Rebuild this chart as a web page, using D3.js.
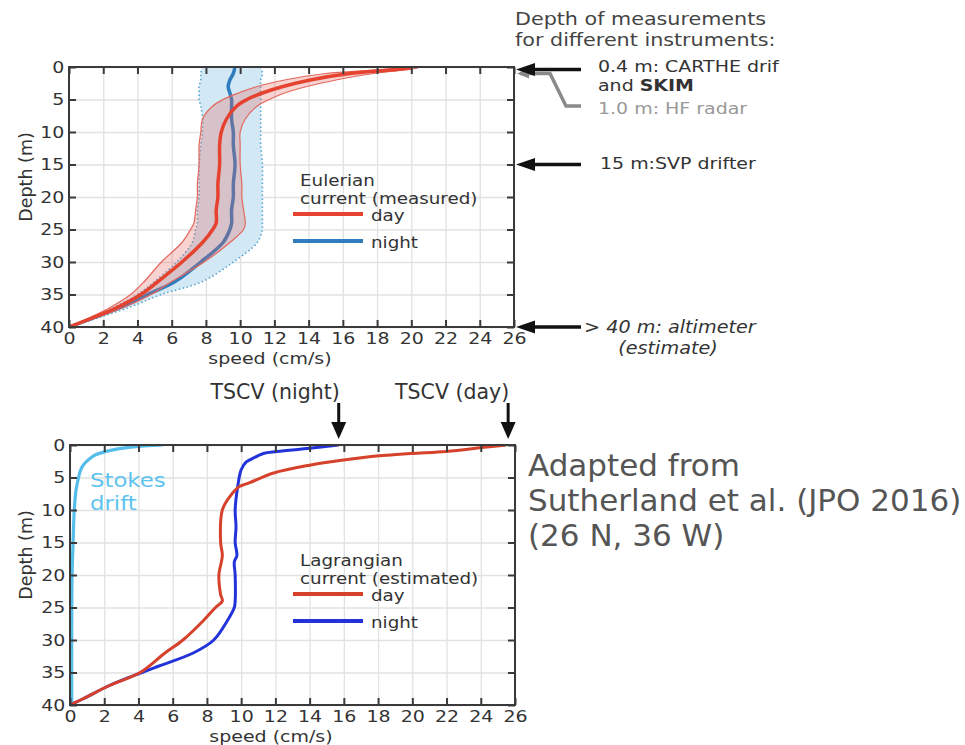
<!DOCTYPE html>
<html>
<head>
<meta charset="utf-8">
<script src="https://cdn.jsdelivr.net/npm/d3@7"></script>
<style>
  body { margin: 0; background: #fff; }
  svg { font-family: "DejaVu Sans", sans-serif; }
</style>
</head>
<body>
<svg id="chart" width="965" height="745"></svg>
<script>
// ---- data (speed in cm/s, depth in m) ----
const speedTicks = [0, 2, 4, 6, 8, 10, 12, 14, 16, 18, 20, 22, 24, 26];
const depthTicks = [0, 5, 10, 15, 20, 25, 30, 35, 40];

// Eulerian current, day (mean and spread)
const eulDayDepth = [0.15, 0.5, 1, 2, 3, 4, 5, 6, 8, 10, 12, 15, 18, 20, 22, 24, 25, 27, 30, 33, 35, 37, 40];
const eulDayMean  = [20, 18.6, 16.4, 14.1, 12.5, 11.3, 10.4, 9.8, 9.2, 8.9, 8.8, 8.8, 8.7, 8.7, 8.6, 8.6, 8.4, 7.8, 6.6, 5.2, 4.2, 2.8, 0];
const eulDayHigh  = [20.4, 19.5, 17.8, 15.6, 13.9, 12.6, 11.7, 11.0, 10.3, 10.0, 10.0, 10.0, 10.1, 10.1, 10.2, 10.3, 10.2, 9.4, 7.9, 6.0, 4.8, 3.2, 0];
const eulDayLow   = [19.6, 17.6, 15.0, 12.6, 11.0, 9.9, 9.0, 8.4, 7.8, 7.7, 7.6, 7.6, 7.5, 7.5, 7.4, 7.3, 7.1, 6.6, 5.4, 4.4, 3.6, 2.4, 0];

// Eulerian current, night
const eulNightDepth = [0, 1, 2, 3, 4, 5, 6, 8, 10, 12, 15, 18, 20, 22, 24, 25, 27, 30, 33, 35, 37, 40];
const eulNightMean  = [9.7, 9.6, 9.4, 9.3, 9.4, 9.5, 9.5, 9.5, 9.6, 9.6, 9.7, 9.6, 9.6, 9.5, 9.5, 9.4, 9.0, 7.7, 6.2, 4.6, 3.0, 0];
const eulNightHigh  = [11.2, 11.3, 11.2, 11.2, 11.2, 11.2, 11.2, 11.2, 11.2, 11.2, 11.3, 11.3, 11.3, 11.3, 11.3, 11.3, 11.0, 9.6, 7.8, 5.4, 3.5, 0];
const eulNightLow   = [7.8, 7.7, 7.7, 7.6, 7.6, 7.6, 7.7, 7.8, 7.8, 7.7, 7.6, 7.6, 7.6, 7.5, 7.5, 7.4, 7.2, 6.3, 5.0, 4.0, 2.6, 0];

// Lagrangian current (estimated)
const lagDayDepth = [0, 0.36, 1, 1.3, 1.7, 2.3, 3.1, 4.3, 5.8, 6.4, 7.9, 10, 15, 17, 20, 23, 24, 25, 27, 30, 32, 35, 37, 39, 40];
const lagDaySpeed = [25.5, 24.2, 22.0, 19.9, 17.9, 16.0, 14.0, 11.9, 10.5, 9.9, 9.35, 8.9, 8.8, 8.9, 8.7, 8.8, 8.9, 8.5, 7.8, 6.6, 5.55, 4.1, 2.3, 0.8, 0];
const lagNightDepth = [0, 0.5, 1, 1.3, 2.3, 2.6, 3.8, 6.4, 10, 12.6, 15, 17, 18, 20, 24, 25, 27, 30, 32, 34, 35, 37, 39, 40];
const lagNightSpeed = [15.7, 14.0, 12.1, 11.3, 10.5, 10.3, 10.0, 9.8, 9.65, 9.7, 9.65, 9.75, 9.6, 9.65, 9.65, 9.6, 9.2, 8.4, 7.2, 5.2, 4.2, 2.3, 0.8, 0];

// Stokes drift
const stokesDepth = [0, 0.3, 0.6, 1, 1.5, 2, 3, 4, 5, 7, 10, 15, 20, 30, 40];
const stokesSpeed = [5.4, 3.7, 2.8, 2.1, 1.5, 1.2, 0.8, 0.6, 0.5, 0.35, 0.25, 0.18, 0.12, 0.1, 0.1];

// TSCV surface values (arrows above bottom panel)
const tscvLabels = ["TSCV (night)", "TSCV (day)"];
const tscvSpeed = [15.7, 25.6];

// instrument depths (arrows right of top panel)
const instrumentDepth = [0.4, 15, 40];

const svg = d3.select("#chart");
const stretch = "scale(1.15,1)";

function drawPanel(id, left, top, width, height) {
  const x = d3.scaleLinear().domain([0, 26]).range([0, width]);
  const y = d3.scaleLinear().domain([0, 40]).range([0, height]);
  const g = svg.append("g").attr("transform", `translate(${left},${top})`);

  svg.append("clipPath").attr("id", id)
    .append("rect").attr("x", 0).attr("y", 0).attr("width", width).attr("height", height);

  // grid
  g.append("g").attr("transform", `translate(0,${height})`)
    .call(d3.axisBottom(x).tickValues(speedTicks).tickSize(-height).tickFormat(""))
    .call(a => a.select(".domain").remove())
    .selectAll("line").attr("stroke", "#e2e2e2").attr("stroke-width", 1.3);
  g.append("g")
    .call(d3.axisLeft(y).tickValues(depthTicks).tickSize(-width).tickFormat(""))
    .call(a => a.select(".domain").remove())
    .selectAll("line").attr("stroke", "#e2e2e2").attr("stroke-width", 1.3);

  const data = g.append("g").attr("clip-path", `url(#${id})`);
  const axes = g.append("g");

  axes.append("rect").attr("width", width).attr("height", height)
    .attr("fill", "none").attr("stroke", "#3a3a3a").attr("stroke-width", 2);

  const bottom = axes.append("g").attr("transform", `translate(0,${height})`)
    .call(d3.axisBottom(x).tickValues(speedTicks).tickSizeInner(-7).tickSizeOuter(0).tickPadding(5));
  const leftAx = axes.append("g")
    .call(d3.axisLeft(y).tickValues(depthTicks).tickSizeInner(-7).tickSizeOuter(0).tickPadding(4));
  axes.append("g")
    .call(d3.axisTop(x).tickValues(speedTicks).tickSizeInner(-7).tickSizeOuter(0).tickFormat(""));
  axes.append("g").attr("transform", `translate(${width},0)`)
    .call(d3.axisRight(y).tickValues(depthTicks).tickSizeInner(-7).tickSizeOuter(0).tickFormat(""));

  axes.selectAll(".domain").remove();
  axes.selectAll(".tick line").attr("stroke", "#3a3a3a").attr("stroke-width", 2);
  [bottom, leftAx].forEach(a => a.selectAll("text")
    .attr("font-size", 16.5).attr("fill", "#333").attr("font-family", "DejaVu Sans")
    .attr("transform", stretch));

  // axis titles
  svg.append("text")
    .attr("transform", `translate(${left + 201},${top + height + 37}) ${stretch}`)
    .attr("text-anchor", "middle").attr("font-size", 16.5).attr("fill", "#333")
    .text("speed (cm/s)");
  svg.append("text")
    .attr("transform", `translate(32,${top + 110}) rotate(-90)`)
    .attr("text-anchor", "middle").attr("font-size", 17.5).attr("fill", "#333")
    .text("Depth (m)");

  return { g, data, x, y };
}

const pts = (ds, vs) => ds.map((d, i) => ({ d, v: vs[i] }));
const band = (ds, lo, hi) => ds.map((d, i) => ({ d, lo: lo[i], hi: hi[i] }));

function legend(g, x0, y0, title1, title2, entries) {
  const s = "scale(1.22,1)";
  g.append("text").attr("transform", `translate(${x0},${y0}) ${s}`)
    .attr("font-size", 15).attr("fill", "#333").text(title1);
  g.append("text").attr("transform", `translate(${x0},${y0 + 18}) ${s}`)
    .attr("font-size", 15).attr("fill", "#333").text(title2);
  entries.forEach((e, i) => {
    const yy = y0 + 28 + i * 27;
    g.append("line").attr("x1", x0 - 7).attr("x2", x0 + 63).attr("y1", yy).attr("y2", yy)
      .attr("stroke", e.color).attr("stroke-width", 4);
    g.append("text").attr("transform", `translate(${x0 + 71},${yy + 7}) ${s}`)
      .attr("font-size", 15).attr("fill", "#333").text(e.label);
  });
}

function arrow(x1, y1, x2, y2, color, w, head, half) {
  const ang = Math.atan2(y2 - y1, x2 - x1);
  const bx = x2 - head * Math.cos(ang), by = y2 - head * Math.sin(ang);
  svg.append("line").attr("x1", x1).attr("y1", y1).attr("x2", bx).attr("y2", by)
    .attr("stroke", color).attr("stroke-width", w);
  const px = -Math.sin(ang) * half, py = Math.cos(ang) * half;
  svg.append("path")
    .attr("d", `M${x2},${y2}L${bx + px},${by + py}L${bx - px},${by - py}Z`)
    .attr("fill", color);
}

// ---------------- top panel: Eulerian ----------------
const topP = drawPanel("clipTop", 69, 67, 445, 260);
{
  const { data, x, y } = topP;
  const area = d3.area().curve(d3.curveCatmullRom)
    .y(d => y(d.d)).x0(d => x(d.lo)).x1(d => x(d.hi));
  const lineLo = d3.line().curve(d3.curveCatmullRom).x(d => x(d.lo)).y(d => y(d.d));
  const lineHi = d3.line().curve(d3.curveCatmullRom).x(d => x(d.hi)).y(d => y(d.d));
  const line = d3.line().curve(d3.curveCatmullRom).x(d => x(d.v)).y(d => y(d.d));

  const nb = band(eulNightDepth, eulNightLow, eulNightHigh);
  data.append("path").datum(nb).attr("d", area).attr("fill", "#d3e8f5");
  [lineLo, lineHi].forEach(l => data.append("path").datum(nb).attr("d", l)
    .attr("fill", "none").attr("stroke", "#5aa7d4").attr("stroke-width", 1.6)
    .attr("stroke-dasharray", "1.5,2.5"));
  data.append("path").datum(pts(eulNightDepth, eulNightMean)).attr("d", line)
    .attr("fill", "none").attr("stroke", "#2f7dbf").attr("stroke-width", 3.5);

  const db = band(eulDayDepth, eulDayLow, eulDayHigh);
  data.append("path").datum(db).attr("d", area).attr("fill", "rgba(226,96,88,0.28)");
  [lineLo, lineHi].forEach(l => data.append("path").datum(db).attr("d", l)
    .attr("fill", "none").attr("stroke", "#e2685e").attr("stroke-width", 1.2));
  data.append("path").datum(pts(eulDayDepth, eulDayMean)).attr("d", line)
    .attr("fill", "none").attr("stroke", "#e5432f").attr("stroke-width", 3.5);

  legend(svg, 300, 186, "Eulerian", "current (measured)", [
    { label: "day", color: "#e5432f" },
    { label: "night", color: "#2f7dbf" }
  ]);
}

// ---------------- bottom panel: Lagrangian ----------------
const botP = drawPanel("clipBot", 70, 445, 445, 260);
{
  const { data, x, y } = botP;
  const line = d3.line().curve(d3.curveCatmullRom).x(d => x(d.v)).y(d => y(d.d));
  data.append("path").datum(pts(stokesDepth, stokesSpeed)).attr("d", line)
    .attr("fill", "none").attr("stroke", "#55bde9").attr("stroke-width", 3.2);
  data.append("path").datum(pts(lagNightDepth, lagNightSpeed)).attr("d", line)
    .attr("fill", "none").attr("stroke", "#2333da").attr("stroke-width", 3);
  data.append("path").datum(pts(lagDayDepth, lagDaySpeed)).attr("d", line)
    .attr("fill", "none").attr("stroke", "#d6412c").attr("stroke-width", 3);

  svg.append("text").attr("transform", "translate(90,487) scale(1.2,1)").attr("font-size", 19)
    .attr("fill", "#5ec3ee").text("Stokes");
  svg.append("text").attr("transform", "translate(90,510) scale(1.2,1)").attr("font-size", 19)
    .attr("fill", "#5ec3ee").text("drift");

  legend(svg, 300, 566, "Lagrangian", "current (estimated)", [
    { label: "day", color: "#d6412c" },
    { label: "night", color: "#2333da" }
  ]);

  // TSCV arrows
  tscvSpeed.forEach((s, i) => {
    const px = 70 + x(s);
    arrow(px, 403, px, 439, "#111", 3, 17, 7.5);
    svg.append("text").attr("x", px + 1).attr("y", 399).attr("text-anchor", "end")
      .attr("font-size", 20.5).attr("fill", "#333").text(tscvLabels[i]);
  });
}

// ---------------- right-hand annotations ----------------
{
  const y = d => 67 + topP.y(d);
  const ax = 69 + topP.x(26);
  const ann = (xx, yy, txt, opts = {}) => svg.append("text")
    .attr("transform", `translate(${xx},${yy}) scale(${opts.sx || 1},1)`)
    .attr("font-size", opts.size || 16.5).attr("fill", opts.color || "#333")
    .attr("font-style", opts.italic ? "italic" : null).attr("text-anchor", opts.anchor || "start")
    .text(txt);

  ann(515, 25, "Depth of measurements", { size: 18, sx: 1.15, color: "#444" });
  ann(515, 46, "for different instruments:", { size: 18, sx: 1.15, color: "#444" });

  // HF radar (1.0 m) gray bent line
  svg.append("path")
    .attr("d", `M${ax + 6},${y(1.0)}L${ax + 36},${y(1.0)}L${ax + 52},${106}L${ax + 67},${106}`)
    .attr("fill", "none").attr("stroke", "#8a8a8a").attr("stroke-width", 3.5);
  arrow(ax + 20, y(1.0), ax + 3, y(1.0), "#8a8a8a", 3, 12, 5);

  instrumentDepth.forEach(d => arrow(ax + 67, y(d), ax + 2, y(d), "#111", 3.5, 19, 6.5));

  ann(598, 72, "0.4 m: CARTHE drif", { sx: 1.15 });
  const t2 = ann(598, 91, "and ", { sx: 1.15 });
  t2.append("tspan").attr("font-weight", "bold").text("SKIM");
  ann(598, 114, "1.0 m: HF radar", { sx: 1.15, color: "#999" });
  ann(600, 169, "15 m:SVP drifter", { sx: 1.15 });
  ann(584, 333, "> 40 m: altimeter", { size: 17, sx: 1.13, italic: true });
  ann(668, 354, "(estimate)", { size: 17, sx: 1.13, italic: true, anchor: "middle" });

  ann(528, 476, "Adapted from", { size: 31, color: "#555" });
  ann(528, 511, "Sutherland et al. (JPO 2016)", { size: 31, color: "#555" });
  ann(528, 546, "(26 N, 36 W)", { size: 31, color: "#555" });
}
</script>
</body>
</html>
